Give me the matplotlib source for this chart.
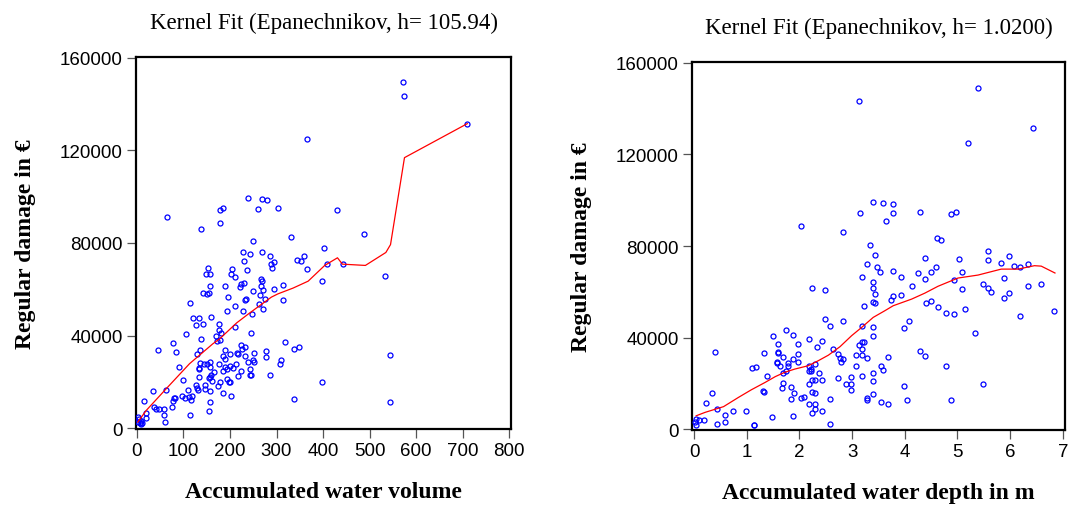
import matplotlib.pyplot as plt

# left panel: accumulated water volume vs damage
vol_x = [571, 574, 710, 366, 239, 269, 280, 259.5, 302.5, 179, 185, 65, 431, 178, 137,
         331, 489, 249.5, 402, 228, 244, 269, 287, 230, 343, 353, 360, 408, 442, 287.5,
         294, 290, 153, 148, 157, 204, 203, 211, 236, 365, 533, 398, 157, 188.5, 223,
         230, 221, 266, 269, 267, 272, 249.5, 314.7, 294, 142, 151, 154, 196, 235, 232,
         264, 276, 314, 262, 272, 210, 114.7, 194, 227, 247, 119.7, 133, 159, 127.6,
         142.7, 211.5, 176, 104.7, 177, 181, 245, 138, 170, 172, 178, 76.7, 44.4, 84,
         129, 135, 319, 337.6, 349, 190, 224, 233, 226, 215, 216.5, 251.6, 278, 277,
         185, 188.5, 200.7, 232, 248.7, 238, 252, 135.5, 144.8, 151, 156, 157, 175.6,
         133, 134, 89.6, 199, 190, 194, 185.7, 213.6, 206.5, 223, 242, 244, 246, 217,
         308, 310, 286, 165, 160, 154, 157, 133, 98, 161, 178.5, 193, 197, 201, 174,
         127, 147, 130, 132, 145.5, 157, 109.7, 185, 202, 398, 33.7, 63, 96, 104, 112.5,
         117.6, 116, 79.6, 81.7, 76.7, 76, 157, 154.8, 113, 337.6, 544, 544, 15.8, 35.8,
         40, 46.6, 58, 58, 61, 19.4, 18.6, 2, 4, 8, 6, 9, 11.5, 2]
vol_y = [149500, 143400, 131600, 125100, 99650, 99200, 98500, 94750, 95000, 94460, 95000,
         91300, 94300, 88850, 86100, 82800, 83800, 80800, 77900, 76200, 75200, 76000,
         74450, 72300, 72600, 72300, 74200, 70850, 70850, 70850, 71600, 69000, 69100,
         66500, 66500, 68700, 66400, 65100, 68300, 68700, 65700, 63500, 61500, 61500,
         62350, 62500, 60800, 64500, 63400, 61200, 59800, 59200, 61900, 60200, 58500,
         58000, 58200, 56450, 55900, 55150, 57450, 55700, 55300, 53600, 51550, 52700,
         54000, 50700, 50400, 49400, 47500, 47500, 48100, 44500, 45100, 43600, 44900,
         40600, 42200, 41300, 41000, 38700, 39600, 37700, 38200, 36700, 33700, 33000,
         31800, 33700, 37150, 34100, 35100, 33550, 36000, 35100, 34300, 32400, 32000,
         32250, 33100, 30500, 31100, 29700, 32000, 31100, 29500, 28500, 28500, 27900,
         27800, 27650, 28350, 26600, 27650, 26000, 25350, 26200, 27000, 26600, 25350,
         24600, 27650, 26000, 24600, 25350, 23000, 23000, 22600, 27650, 29200, 22900,
         24200, 23000, 21600, 22000, 22000, 20900, 20150, 20000, 21000, 20000, 20000,
         18300, 18700, 18400, 17300, 16300, 17000, 16000, 16400, 15250, 13800, 20000,
         16100, 16300, 13700, 13100, 13400, 14000, 12000, 12800, 13100, 11500, 8900,
         11200, 7350, 5750, 12700, 31500, 11200, 11500, 9100, 8050, 8050, 8050, 5500,
         2450, 6350, 4200, 4750, 4000, 3200, 2000, 1700, 2300, 2600]
vol_fit_x = [2, 20, 63, 113, 163, 178, 214, 242, 289, 303, 335.5, 368, 403.6, 431,
             441.6, 491, 535, 545, 575, 710]
vol_fit_y = [2600, 7600, 17000, 27800, 36400, 38600, 45400, 49700, 56600, 58000, 60500,
             63500, 70300, 73600, 70850, 70300, 75900, 79300, 116900, 131600]

# right panel: accumulated water depth vs damage
depth_x = [5.38, 3.13, 6.43, 5.20, 3.39, 3.58, 3.78, 3.15, 3.78, 3.65, 4.29, 4.88, 4.98,
           2.03, 2.83, 3.34, 3.44, 4.61, 4.68, 3.28, 3.48, 3.53, 3.78, 3.18, 3.39, 3.39,
           3.44, 3.39, 3.44, 3.23, 3.73, 3.78, 3.93, 3.93, 4.14, 4.25, 4.38, 4.38, 4.49,
           4.59, 4.40, 4.49, 4.63, 4.78, 4.93, 4.93, 5.02, 5.09, 5.09, 5.14, 5.33, 5.48,
           5.58, 5.64, 5.58, 5.58, 5.83, 5.88, 5.88, 5.98, 5.98, 6.08, 6.18, 6.34, 6.34,
           6.58, 6.18, 6.83, 5.48, 4.88, 4.78, 4.28, 4.38, 4.08, 3.98, 3.98, 4.04, 3.68,
           3.68, 3.54, 3.58, 3.54, 3.39, 3.39, 3.39, 3.28, 3.28, 3.18, 3.08, 3.08, 3.18,
           3.28, 3.13, 3.18, 3.23, 3.18, 3.18, 3.39, 3.39, 2.98, 2.98, 2.98, 2.88, 2.74,
           2.83, 2.74, 2.77, 2.79, 2.83, 2.63, 2.49, 2.23, 2.49, 2.58, 2.43, 2.34, 2.19,
           1.98, 1.98, 1.98, 1.88, 1.88, 1.74, 1.50, 1.59, 1.59, 1.59, 1.69, 1.58, 1.58,
           1.63, 1.79, 1.79, 1.74, 1.68, 2.18, 2.21, 2.21, 2.19, 2.29, 2.38, 2.23, 2.29,
           2.18, 2.43, 2.23, 2.29, 2.03, 2.08, 2.19, 2.29, 2.29, 2.23, 2.43, 2.58, 2.58,
           1.84, 1.89, 1.84, 1.88, 1.68, 1.67, 1.48, 1.38, 1.33, 1.30, 1.33, 1.09, 1.18,
           0.99, 1.13, 1.14, 0.74, 0.59, 0.59, 0.44, 0.44, 0.39, 0.34, 0.23, 0.19, 0.09,
           0.04, 0.04, 0.02]
depth_y = [149200, 143200, 131400, 124900, 99400, 98900, 98200, 94300, 94600, 91100,
           94900, 94100, 95000, 88700, 86000, 80600, 75900, 83600, 82600, 72000, 70800,
           68800, 68900, 66300, 64400, 61500, 59000, 55500, 55100, 53800, 56200, 58000,
           66300, 58400, 62400, 68000, 74900, 65600, 68500, 70800, 55100, 55800, 53500,
           50600, 50100, 65000, 74300, 68600, 61200, 52500, 42100, 63400, 61800, 59900,
           77800, 74000, 72400, 66100, 57300, 75800, 59600, 71400, 70800, 72300, 62400,
           63400, 49200, 51400, 19800, 12500, 27700, 33900, 31800, 47400, 44100, 18600,
           12700, 31300, 11100, 11700, 25900, 27400, 24600, 20800, 15200, 13400, 12800,
           23000, 27500, 32200, 32200, 30900, 36600, 38000, 38000, 35000, 44900, 44600,
           40800, 22700, 19800, 17000, 19800, 22400, 47200, 32900, 31200, 29400, 30700,
           35000, 60600, 61500, 47900, 44900, 38600, 35800, 39500, 37300, 32900, 29100,
           41200, 30500, 43400, 40500, 37000, 33800, 33400, 31600, 29400, 28700, 27400,
           28700, 27700, 25200, 24300, 27500, 26200, 25200, 25200, 28300, 24500, 21600,
           21600, 19800, 21300, 16000, 15600, 13400, 13800, 10900, 11100, 8700, 7100,
           7900, 13000, 2300, 18400, 15900, 13100, 5500, 20000, 18100, 5400, 23000,
           33400, 16600, 16200, 26500, 27000, 7900, 1700, 1700, 7900, 6100, 3100, 8900,
           2300, 33500, 15900, 11400, 3900, 3800, 4400, 1900, 3200]
depth_fit_x = [0.04, 0.21, 0.56, 0.84, 1.09, 1.35, 1.54, 1.72, 1.91, 2.17, 2.36, 2.55,
               2.77, 2.99, 3.18, 3.40, 3.62, 3.78, 4.13, 4.38, 4.63, 5.01, 5.39, 5.83,
               6.15, 6.46, 6.59, 6.85]
depth_fit_y = [5800, 7300, 9800, 13800, 17200, 20400, 22900, 24800, 26200, 27700, 29900,
               32300, 36000, 40800, 44400, 48800, 51700, 53900, 56800, 59400, 62400,
               66000, 67300, 69900, 69900, 71400, 71200, 68200]

serif = ['Liberation Serif', 'DejaVu Serif']
sans = ['Liberation Sans', 'DejaVu Sans']

fig = plt.figure(figsize=(10.7, 5.06), dpi=100)
ax1 = fig.add_axes([0.1271, 0.1502, 0.3505, 0.7352])
ax2 = fig.add_axes([0.6467, 0.1482, 0.3486, 0.7273])

panels = [
    (ax1, vol_x, vol_y, vol_fit_x, vol_fit_y, 'Kernel Fit (Epanechnikov, h= 105.94)',
     'Accumulated water volume', (-2, 804), range(0, 801, 100)),
    (ax2, depth_x, depth_y, depth_fit_x, depth_fit_y, 'Kernel Fit (Epanechnikov, h= 1.0200)',
     'Accumulated water depth in m', (-0.04, 7.04), range(0, 8)),
]

for ax, x, y, fx, fy, title, xlabel, xlim, xticks in panels:
    ax.plot(x, y, 'o', markersize=3.6, markerfacecolor='none', markeredgecolor='#0000ff',
            markeredgewidth=0.9, zorder=3)
    ax.plot(fx, fy, color='#ff0000', linewidth=0.9, zorder=4)
    ax.set_xlim(*xlim)
    ax.set_ylim(-420, 160420)
    ax.set_xticks(list(xticks))
    ax.set_yticks([0, 40000, 80000, 120000, 160000])
    ax.tick_params(direction='out', length=6.5, width=0.9, color='#555555', pad=3,
                   labelsize=13.5, top=False, right=False)
    for lab in ax.get_xticklabels() + ax.get_yticklabels():
        lab.set_family(sans)
    for s in ax.spines.values():
        s.set_linewidth(1.6)
        s.set_color('black')
    ax.set_title(title, family=serif, fontsize=16.5, pad=21)
    ax.set_xlabel(xlabel, family=serif, fontsize=17, fontweight='bold', labelpad=16)
    ax.set_ylabel('Regular damage in €', family=serif, fontsize=17, fontweight='bold',
                  labelpad=17)

plt.savefig('out.png', dpi=100)
plt.close()
